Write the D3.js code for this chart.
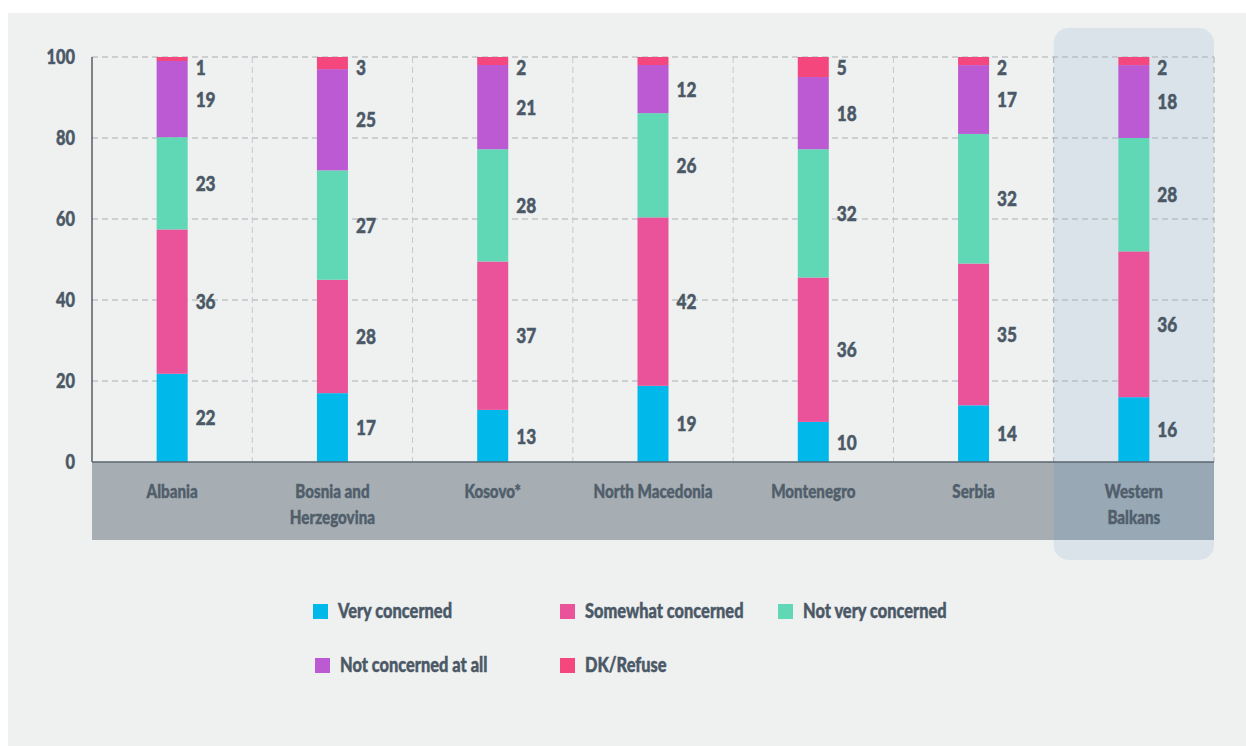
<!DOCTYPE html>
<html><head><meta charset="utf-8">
<script src="https://cdn.jsdelivr.net/npm/d3@7"></script>
<style>
html,body{margin:0;padding:0;background:#fff;}
svg text{font-family:Lato,"Open Sans","DejaVu Sans Condensed",sans-serif;font-weight:900;fill:#4b5967;stroke:#4b5967;stroke-width:0.45px;}
</style></head>
<body>
<svg id="chart" width="1246" height="746"></svg>
<script>
const categories = ["Albania", "Bosnia and\nHerzegovina", "Kosovo*", "North Macedonia", "Montenegro", "Serbia", "Western\nBalkans"];
const seriesNames = ["Very concerned", "Somewhat concerned", "Not very concerned", "Not concerned at all", "DK/Refuse"];
const veryConcerned     = [22, 17, 13, 19, 10, 14, 16];
const somewhatConcerned = [36, 28, 37, 42, 36, 35, 36];
const notVeryConcerned  = [23, 27, 28, 26, 32, 32, 28];
const notConcernedAtAll = [19, 25, 21, 12, 18, 17, 18];
const dkRefuse          = [1, 3, 2, 2, 5, 2, 2];
const dkLabelShown      = [true, true, true, false, true, true, true];
const yTicks = [0, 20, 40, 60, 80, 100];
const highlighted = "Western\nBalkans";
const colors = ["#00b9ea", "#ea529a", "#60d7b5", "#bb5ad2", "#f4477e"];

(function () {
const seriesValues = [veryConcerned, somewhatConcerned, notVeryConcerned, notConcernedAtAll, dkRefuse];
const rows = categories.map((c, i) => {
  const r = {cat: c};
  seriesNames.forEach((s, j) => r[s] = seriesValues[j][i]);
  return r;
});

const SX = 0.82; // horizontal condensing to mimic a condensed typeface
const place = (px, py) => `translate(${px},${py}) scale(${SX},1)`;

const svg = d3.select("#chart");
const W = 1246, H = 746;
const pL = 92, pR = 1214, pT = 57, pB = 462;

svg.append("rect").attr("x", 8).attr("y", 13).attr("width", W - 8).attr("height", H - 13).attr("fill", "#eff0f0");

const x = d3.scaleBand().domain(categories).range([pL, pR]).paddingInner(0).paddingOuter(0);
const y = d3.scaleLinear().domain([0, 100]).range([pB, pT]);

const hx = x(highlighted);
svg.append("rect").attr("x", hx).attr("y", 28).attr("width", x.bandwidth()).attr("height", 532)
  .attr("rx", 15).attr("fill", "#dae3ea");

svg.append("rect").attr("x", pL).attr("y", pB).attr("width", pR - pL).attr("height", 78).attr("fill", "#a6aeb3");
svg.append("rect").attr("x", hx).attr("y", pB).attr("width", x.bandwidth()).attr("height", 78).attr("fill", "#98a9b5");

svg.append("g").selectAll("line").data(yTicks.filter(d => d > 0)).join("line")
  .attr("x1", pL).attr("x2", pR).attr("y1", d => y(d)).attr("y2", d => y(d))
  .attr("stroke", "#a9afb5").attr("stroke-width", 1).attr("stroke-dasharray", "6,4");
svg.append("g").selectAll("line").data(categories).join("line")
  .attr("x1", d => x(d) + x.bandwidth()).attr("x2", d => x(d) + x.bandwidth())
  .attr("y1", pT).attr("y2", pB)
  .attr("stroke", d => (d === highlighted || categories.indexOf(d) === categories.length - 2) ? "#a9afb5" : "#c6c9cc")
  .attr("stroke-width", 1).attr("stroke-dasharray", "6,4");

const stack = d3.stack().keys(seriesNames).offset(d3.stackOffsetExpand);
const layers = stack(rows);
const ys = d => y(d * 100);
const barW = 31;
const g = svg.append("g");
layers.forEach((layer, j) => {
  g.selectAll(null).data(layer).join("rect")
    .attr("x", d => x(d.data.cat) + x.bandwidth() / 2 - barW / 2)
    .attr("y", d => ys(d[1]))
    .attr("width", barW)
    .attr("height", d => ys(d[0]) - ys(d[1]))
    .attr("fill", colors[j]);
  g.selectAll(null).data(layer.filter((d, i) => j < 4 || dkLabelShown[i])).join("text")
    .attr("transform", d => place(x(d.data.cat) + x.bandwidth() / 2 + barW / 2 + 8,
                                  Math.max(ys((d[0] + d[1]) / 2), y(100) + 10)))
    .attr("dy", "0.36em")
    .attr("font-size", 21)
    .text(d => d.data[layer.key]);
});

svg.append("line").attr("x1", pL).attr("x2", pL).attr("y1", pT).attr("y2", pB).attr("stroke", "#333a40").attr("stroke-width", 1.2);
svg.append("line").attr("x1", pL).attr("x2", pR).attr("y1", pB).attr("y2", pB).attr("stroke", "#5a6670").attr("stroke-width", 1.5);

svg.append("g").selectAll("text").data(yTicks).join("text")
  .attr("transform", d => place(75, y(d))).attr("dy", "0.36em").attr("text-anchor", "end")
  .attr("font-size", 20).text(d => d);

const xl = svg.append("g").selectAll("text").data(categories).join("text")
  .attr("transform", d => place(x(d) + x.bandwidth() / 2, 491)).attr("text-anchor", "middle")
  .attr("font-size", 18.5).style("fill", "#515e6b").style("stroke", "#515e6b");
xl.each(function(d) {
  const t = d3.select(this);
  d.split("\n").forEach((line, i) => {
    t.append("tspan").attr("x", 0).attr("dy", i === 0 ? "0.36em" : 26).text(line);
  });
});

const legendPos = [[313, 611], [560, 611], [778, 611], [315, 665], [560, 665]];
const lg = svg.append("g");
seriesNames.forEach((s, j) => {
  const [lx, ly] = legendPos[j];
  lg.append("rect").attr("x", lx).attr("y", ly - 7).attr("width", 15).attr("height", 15).attr("fill", colors[j]);
  lg.append("text").attr("transform", place(lx + 25, ly)).attr("dy", "0.36em").attr("font-size", 20).text(s);
});
})();
</script>
</body></html>
